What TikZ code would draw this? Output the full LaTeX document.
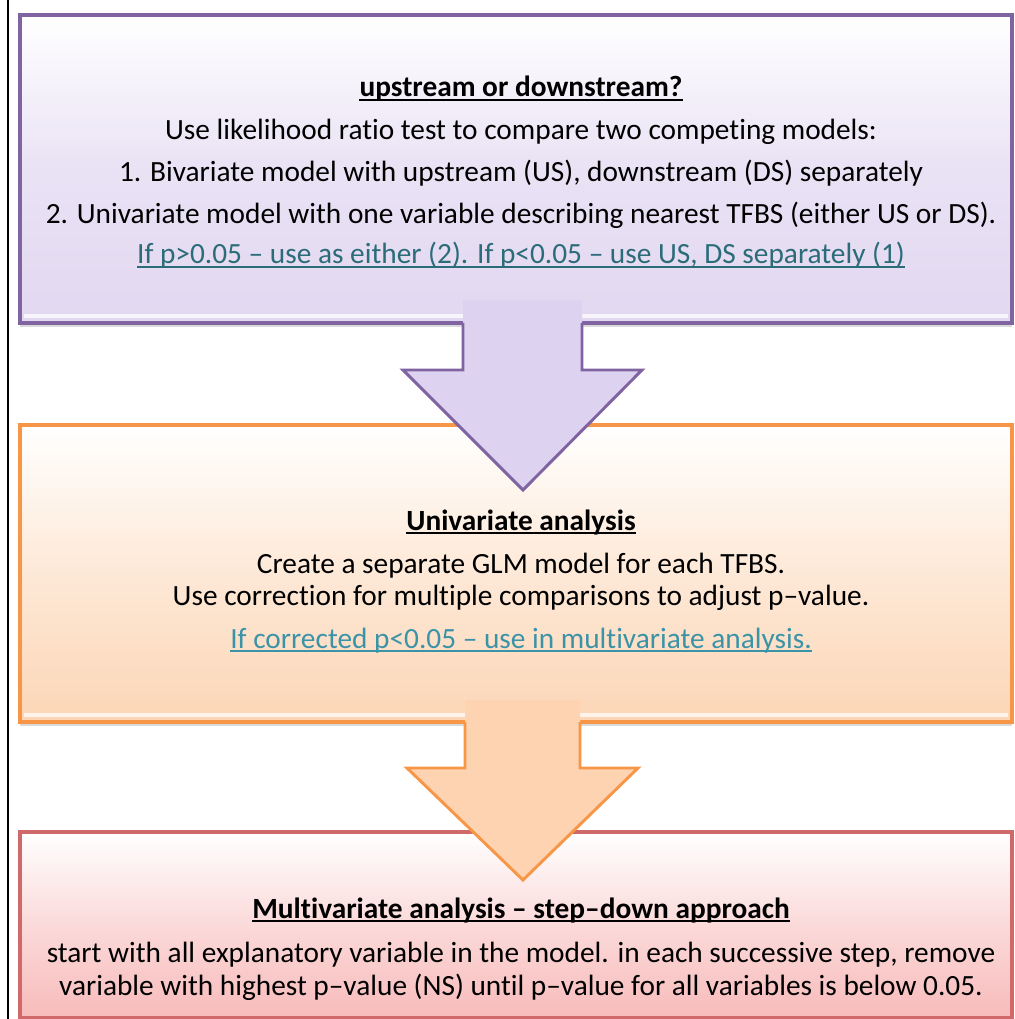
\documentclass[tikz,border=0pt]{standalone}
\usepackage{fontspec}
\setmainfont{Carlito}[Ligatures=NoCommon]
\usetikzlibrary{shadows}

\definecolor{uppurple}{HTML}{8064A2}
\definecolor{upfill}{HTML}{E2D8F1}
\definecolor{arrowlilac}{HTML}{DDD2EF}
\definecolor{unorange}{HTML}{F79646}
\definecolor{unfill}{HTML}{FCD6B6}
\definecolor{arrowpeach}{HTML}{FDD3B1}
\definecolor{multired}{HTML}{D06A6A}
\definecolor{multifill}{HTML}{F8BBBB}
\definecolor{linkdark}{HTML}{2C6C79}
\definecolor{linkteal}{HTML}{3B93A8}

\begin{document}
\begin{tikzpicture}[
  x=0.75pt,
  y=-0.75pt,
  txt/.style={anchor=base,inner sep=0pt,font=\fontsize{22}{26}\selectfont},
  headtxt/.style={txt,font=\fontsize{22}{26}\selectfont\bfseries},
  underrule/.style={draw=#1,line width=1.2pt},
  stagebox/.style={
    line width=2.6pt,
    top color=white,
    drop shadow={opacity=0.3,shadow xshift=0pt,shadow yshift=-3pt}
  },
  bevel/.style={draw=white,line width=3pt,opacity=0.75},
  blockarrow/.style={draw=#1,line width=2.2pt,line join=miter}
]
\useasboundingbox (0,0) rectangle (1014,1019);

% Margin rule on the left.
\draw[black,line width=1.1pt] (8,0) -- (8,1019);

% The three stages.
\shade[stagebox,draw=uppurple,bottom color=upfill,middle color=upfill!75!white] (20,15) rectangle (1012,323);
\draw[bevel] (24,316) -- (1008,316);
\shade[stagebox,draw=unorange,bottom color=unfill,middle color=unfill!55!white] (20,425) rectangle (1012,722);
\draw[bevel] (24,715) -- (1008,715);
\shade[stagebox,draw=multired,bottom color=multifill,middle color=multifill!55!white] (20,832) rectangle (1012,1018);

% Block arrows between stages.
\fill[arrowlilac] (463,300) -- (582,300) -- (582,370) -- (642,370)
  -- (523,490) -- (403,370) -- (463,370) -- cycle;
\draw[blockarrow=uppurple] (463,323) -- (463,370) -- (403,370)
  -- (523,490) -- (642,370) -- (582,370) -- (582,323);
\fill[arrowpeach] (465,700) -- (580,700) -- (580,768) -- (638,768)
  -- (523,880) -- (407,768) -- (465,768) -- cycle;
\draw[blockarrow=unorange] (465,722) -- (465,768) -- (407,768)
  -- (523,880) -- (638,768) -- (580,768) -- (580,722);

% Stage 1 text.
\node[headtxt] (uptitle) at (521,97) {upstream or downstream?};
\node[txt] (uplr) at (521,140) {Use likelihood ratio test to compare two competing models:};
\node[txt] (upbiv) at (521,182) {1. Bivariate model with upstream (US), downstream (DS) separately};
\node[txt] (upuni) at (521,224) {2. Univariate model with one variable describing nearest TFBS (either US or DS).};
\node[txt,text=linkdark] (uplink) at (521,264) {If p>0.05 – use as either (2). If p<0.05 – use US, DS separately (1)};

% Stage 2 text.
\node[headtxt] (unititle) at (521,530) {Univariate analysis};
\node[txt] (uniglm) at (521,573) {Create a separate GLM model for each TFBS.};
\node[txt] (unicorr) at (521,605) {Use correction for multiple comparisons to adjust p–value.};
\node[txt,text=linkteal] (unilink) at (521,648) {If corrected p<0.05 – use in multivariate analysis.};

% Stage 3 text.
\node[headtxt] (multititle) at (521,918) {Multivariate analysis – step–down approach};
\node[txt] (multistart) at (521,962) {start with all explanatory variable in the model. in each successive step, remove};
\node[txt] (multistop) at (521,995) {variable with highest p–value (NS) until p–value for all variables is below 0.05.};

% Underlines.
\draw[underrule=black] ([yshift=-2.4pt]uptitle.base west) -- ([yshift=-2.4pt]uptitle.base east);
\draw[underrule=linkdark] ([yshift=-2.4pt]uplink.base west) -- ([yshift=-2.4pt]uplink.base east);
\draw[underrule=black] ([yshift=-2.4pt]unititle.base west) -- ([yshift=-2.4pt]unititle.base east);
\draw[underrule=linkteal] ([yshift=-2.4pt]unilink.base west) -- ([yshift=-2.4pt]unilink.base east);
\draw[underrule=black] ([yshift=-2.4pt]multititle.base west) -- ([yshift=-2.4pt]multititle.base east);

\end{tikzpicture}
\end{document}
